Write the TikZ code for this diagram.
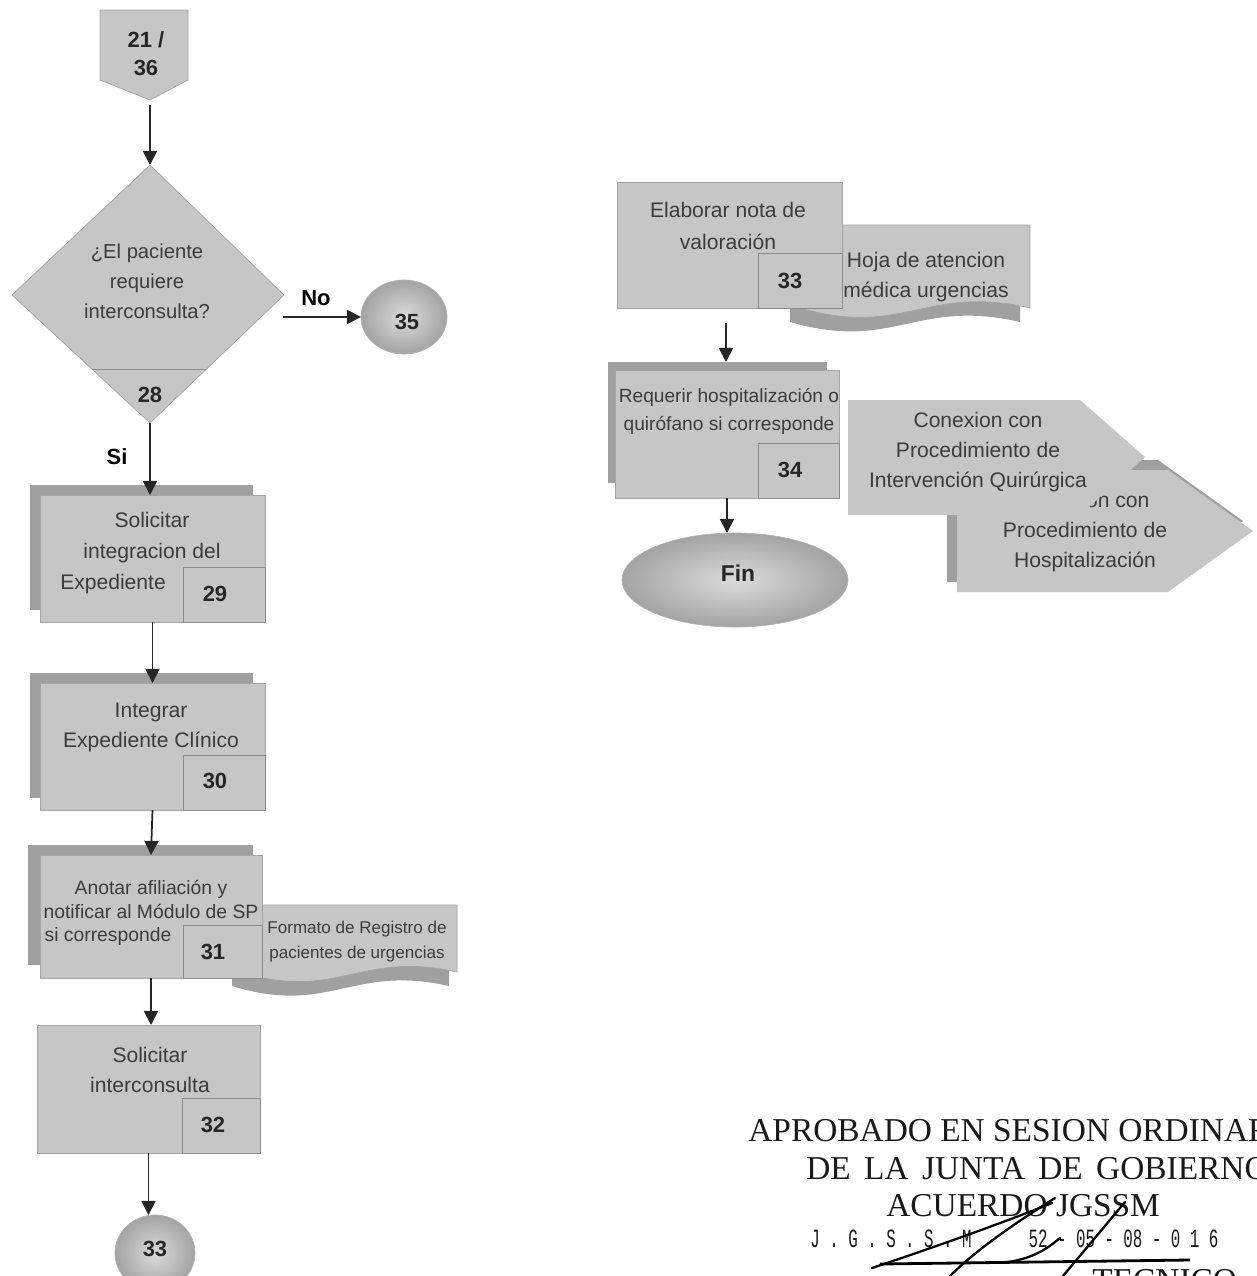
\documentclass[tikz,border=0pt]{standalone}
\usepackage{fontspec}
\setmainfont{Liberation Sans}
\newfontfamily\stampfont{Liberation Serif}
\newfontfamily\stampmono[FakeStretch=0.6]{Liberation Mono}
\usetikzlibrary{arrows.meta,shapes.geometric,calc}
\newlength\pxu
\setlength\pxu{0.02cm}

\definecolor{boxfill}{HTML}{C6C6C6}
\definecolor{boxback}{HTML}{A0A0A0}
\definecolor{boxedge}{HTML}{A4A4A4}
\definecolor{ink}{HTML}{3C3C3C}

\tikzset{
  front/.style={fill=boxfill, draw=boxedge, line width=0.4pt, inner sep=0pt, outer sep=0pt},
  back/.style={fill=boxback, inner sep=0pt, outer sep=0pt},
  cell/.style={draw=black!45, line width=0.5pt, inner sep=0pt, outer sep=0pt},
  lbl/.style={text=ink, align=center, inner sep=0pt},
  numtxt/.style={text=black!85, inner sep=0pt, font=\bfseries\fontsize{12.5}{16}\selectfont},
  edgelbl/.style={text=black, inner sep=0pt, font=\bfseries\fontsize{12.5}{15}\selectfont},
  flow/.style={draw=black!85, line width=1pt, -{Triangle[length=8pt,width=8pt]}},
  bubble/.style={ellipse, inner sep=0pt, outer sep=0pt, draw=black!30, line width=0.4pt,
    shading=radial, inner color=black!14, outer color=black!36},
  stamp/.style={inner sep=0pt, anchor=base west, text=black!90},
  sig/.style={draw=black, line width=1.3pt, line cap=round},
}

\begin{document}
\begin{tikzpicture}[x=0.02cm, y=-0.02cm]
\useasboundingbox (0,0) rectangle (1257,1276);
\clip (0,0) rectangle (1257,1276);

% ---------- off-page connector 21 / 36 ----------
\path[fill=boxfill, draw=boxedge, line width=0.4pt]
  (100,10) -- (188,10) -- (188,80) -- (150,100) -- (100,80) -- cycle;
\coordinate (off21tip) at (150,100);
\node[numtxt, align=center, font=\bfseries\fontsize{12.5}{15.9}\selectfont] (off21) at (146,54) {21 /\\36};

% ---------- decision ----------
\coordinate (dtop) at (150,165);
\coordinate (dbot) at (150,423);
\coordinate (dleft) at (12,295);
\coordinate (dright) at (284,295);
\path[fill=boxfill, draw=boxedge, line width=0.4pt] (dtop) -- (dright) -- (dbot) -- (dleft) -- cycle;
\draw[black!45, line width=0.5pt] (92,369) -- (206,369);
\node[lbl, font=\fontsize{11.5}{17}\selectfont] (dec) at (147,281) {¿El paciente\\requiere\\interconsulta?};
\node[numtxt] (n28) at (150,395) {28};

\draw[flow, shorten <=3pt] (off21tip) -- (dtop);

% ---------- connector 35 ----------
\node[bubble, minimum width=86\pxu, minimum height=74\pxu] (c35) at (404,317) {};
\node[numtxt] (t35) at (407,322) {35};
\coordinate (nostart) at (283,317);
\draw[flow] (nostart) -- (c35.west);
\node[edgelbl] (lno) at (316,298) {No};

% ---------- activity 29 ----------
\node[back, minimum width=223\pxu, minimum height=125\pxu] (b29back) at (141.5,547.5) {};
\node[front, minimum width=225\pxu, minimum height=127\pxu] (b29) at (152.5,558.5) {};
\node[cell, minimum width=82\pxu, minimum height=55\pxu] (k29) at (224,594.5) {};
\node[numtxt] (n29) at (215,594) {29};
\node[lbl, font=\fontsize{12}{17.6}\selectfont] (t29) at (152,553)
  {Solicitar\\integracion del\\Expediente\hspace*{78\pxu}};
\draw[flow] (dbot) -- (dbot |- b29.north);
\node[edgelbl] (lsi) at (117,457) {Si};

% ---------- activity 30 ----------
\node[back, minimum width=223\pxu, minimum height=125\pxu] (b30back) at (141.5,735.5) {};
\node[front, minimum width=225\pxu, minimum height=127\pxu] (b30) at (152.5,746.5) {};
\node[cell, minimum width=82\pxu, minimum height=55\pxu] (k30) at (224,782.5) {};
\node[numtxt] (n30) at (215,781) {30};
\node[lbl, font=\fontsize{12}{17}\selectfont] (t30) at (151,727) {Integrar\\Expediente Clínico};
\draw[flow] (b29.south) -- (b30.north);

% ---------- document: registro de pacientes ----------
\path[fill=boxback]
  (232,919) -- (449,919) -- (449,986) .. controls (351,964) and (330,1016) .. (232,986) -- cycle;
\path[fill=boxfill, draw=boxedge, line width=0.4pt]
  (240,905) -- (457,905) -- (457,972) .. controls (359,950) and (338,1002) .. (240,972) -- cycle;
\node[lbl, font=\fontsize{9.7}{14.2}\selectfont] (d31) at (357,942) {Formato de Registro de\\pacientes de urgencias};

% ---------- activity 31 ----------
\node[back, minimum width=225\pxu, minimum height=120\pxu] (b31back) at (140.5,905) {};
\node[front, minimum width=222\pxu, minimum height=123\pxu] (b31) at (151,916.5) {};
\node[cell, minimum width=79\pxu, minimum height=53\pxu] (k31) at (222.5,951.5) {};
\node[numtxt] (n31) at (213,952) {31};
\node[lbl, font=\fontsize{11}{13.3}\selectfont] (t31) at (151,913)
  {Anotar afiliación y\\notificar al Módulo de SP\\si corresponde\hspace*{86\pxu}};
\draw[flow] (b30.south) -- (b31.north);

% ---------- activity 32 ----------
\node[front, minimum width=223\pxu, minimum height=128\pxu] (b32) at (148.5,1089) {};
\node[cell, minimum width=78\pxu, minimum height=55\pxu] (k32) at (221,1125.5) {};
\node[numtxt] (n32) at (213,1125) {32};
\node[lbl, font=\fontsize{12}{17}\selectfont] (t32) at (150,1070) {Solicitar\\interconsulta};
\draw[flow] (b31.south) -- (b31.south |- b32.north);

% ---------- connector 33 ----------
\node[bubble, minimum width=80\pxu, minimum height=76\pxu] (c33) at (155,1253) {};
\node[numtxt] (t33) at (155,1249) {33};
\draw[flow] (b32.south) -- (b32.south |- c33.north);

% ---------- document: hoja de atencion ----------
\path[fill=boxback]
  (790,239) -- (1020,239) -- (1020,322) .. controls (916,298) and (894,352) .. (790,322) -- cycle;
\path[fill=boxfill, draw=boxedge, line width=0.4pt]
  (800,225) -- (1030,225) -- (1030,308) .. controls (926,284) and (904,338) .. (800,308) -- cycle;
\node[lbl, font=\fontsize{12}{17.6}\selectfont] (d33) at (926,277) {Hoja de atencion\\médica urgencias};

% ---------- activity 33 ----------
\node[front, minimum width=225\pxu, minimum height=126\pxu] (b33) at (729.5,245) {};
\node[cell, minimum width=84\pxu, minimum height=55\pxu] (k33) at (800,280.5) {};
\node[numtxt] (n33) at (790,281) {33};
\node[lbl, font=\fontsize{12}{18}\selectfont] (t33b) at (728,226) {Elaborar nota de\\valoración};

% ---------- activity 34 ----------
\node[back, minimum width=219\pxu, minimum height=121\pxu] (b34back) at (717.5,422.5) {};
\node[front, minimum width=224\pxu, minimum height=128\pxu] (b34) at (727,434) {};
\node[cell, minimum width=81\pxu, minimum height=55\pxu] (k34) at (798.5,470.5) {};
\node[numtxt] (n34) at (790,470) {34};
\node[lbl, font=\fontsize{10.9}{15.9}\selectfont] (t34) at (729,411)
  {Requerir hospitalización o\\quirófano si corresponde};
\draw[flow, shorten <=8.5pt] (b33.south -| 726,0) -- (726,362);

% ---------- end ----------
\node[bubble, minimum width=226\pxu, minimum height=94\pxu] (fin) at (735,580) {};
\node[numtxt, font=\bfseries\fontsize{13}{16}\selectfont] (tfin) at (738,573) {Fin};
\draw[flow] (b34.south) -- (b34.south |- fin.north);

% ---------- off-page: hospitalizacion ----------
\path[fill=boxback]
  (947,460) -- (1158,460) -- (1243,521) -- (1158,582) -- (947,582) -- cycle;
\path[fill=boxfill]
  (957,470) -- (1168,470) -- (1253,531) -- (1168,592) -- (957,592) -- cycle;
\node[lbl, font=\fontsize{12}{17}\selectfont] (p2) at (1085,532)
  {Conexion con\\Procedimiento de\\Hospitalización};

% ---------- off-page: intervencion quirurgica ----------
\path[fill=boxfill]
  (848,400) -- (1080,400) -- (1145,457) -- (1080,515) -- (848,515) -- cycle;
\node[lbl, font=\fontsize{12}{17}\selectfont] (p1) at (978,452)
  {Conexion con\\Procedimiento de\\Intervención Quirúrgica};

% ---------- approval stamp ----------
\node[stamp, font=\stampfont\fontsize{19}{21}\selectfont] (st1) at (748,1141) {APROBADO EN SESION ORDINARIA};
\node[stamp, font=\stampfont\fontsize{19}{21}\selectfont] (st2) at (806,1179)
  {DE\hspace{0.4em}LA\hspace{0.4em}JUNTA\hspace{0.4em}DE\hspace{0.4em}GOBIERNO};
\node[stamp, font=\stampfont\fontsize{19}{21}\selectfont] (st3) at (886,1216) {ACUERDO JGSSM};
\node[stamp, font=\stampmono\fontsize{15}{17}\selectfont] (st4) at (810,1247)
  {J~.~G~.~S~.~S~.~M~~~~~~52~-~05~-~08~-~0~1~6};
\node[stamp, font=\stampfont\fontsize{19}{21}\selectfont] (st5) at (1092,1291) {TECNICO};
\coordinate (ulA) at (880,1264);
\coordinate (ulB) at (1190,1260);
\draw[black, line width=1.6pt] (ulA) -- (ulB);

% signature strokes
\draw[sig] (1055,1198) .. controls (1020,1220) and (978,1248) .. (950,1276);
\draw[sig] (872,1268) .. controls (935,1247) and (1005,1222) .. (1052,1203);
\draw[sig] (1125,1202) -- (1063,1276);
\draw[sig] (1060,1238) .. controls (1050,1246) and (1036,1258) .. (1008,1262);
\end{tikzpicture}
\end{document}
